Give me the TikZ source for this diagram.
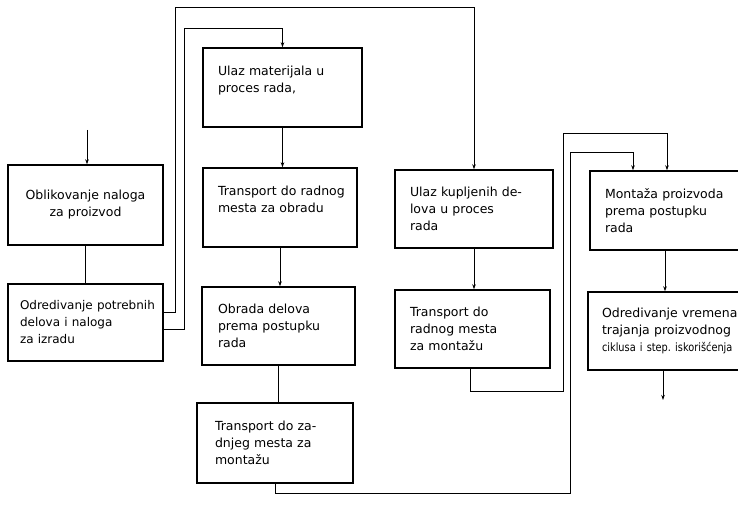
\documentclass[tikz,border=0pt]{standalone}
\usepackage{fontspec}
\newfontfamily\boxfont[WordSpace=1.5]{DejaVu Sans}
\newfontfamily\boxfontc[FakeStretch=0.85]{DejaVu Sans}
\newcommand\boxfontsel{\boxfont\fontsize{12.5}{17}\selectfont\hyphenpenalty=10000\relax\exhyphenpenalty=10000\relax}
\usetikzlibrary{arrows.meta}
\begin{document}
\begin{tikzpicture}[x=1pt,y=-1pt,
  box/.style={draw, line width=1.4pt, inner xsep=4pt, inner ysep=0pt,
    font=\boxfontsel, align=left},
  conn/.style={line width=0.8pt},
  arr/.style={conn, -{Stealth[length=5pt,width=3.5pt]}}]
\useasboundingbox (0,0) rectangle (738,505);
\clip (0,0) rectangle (738,505);
\fill[white] (0,0) rectangle (738,505);

\node[box, minimum width=155pt, minimum height=80pt, text width=135pt, align=center] (b1) at (85.5,205) {Oblikovanje~naloga\\za~proizvod};
\node[box, minimum width=155pt, minimum height=77pt, text width=131pt] (b2) at (85.5,322.5) {\fontsize{12}{17}\selectfont Odredivanje~potrebnih\\delova~i~naloga\\za~izradu};
\node[box, minimum width=159pt, minimum height=79pt, text width=129pt] (b3) at (282.5,87.5) {Ulaz~materijala~u\\proces~rada,\\\mbox{}};
\node[box, minimum width=154pt, minimum height=79pt, text width=124pt] (b4) at (280,207.5) {Transport~do~radnog\\mesta~za~obradu\\\mbox{}};
\node[box, minimum width=153pt, minimum height=78pt, text width=121pt] (b5) at (278.5,326) {Obrada~delova\\prema~postupku\\rada};
\node[box, minimum width=156pt, minimum height=80pt, text width=120pt] (b6) at (275,443) {Transport~do~za-\\dnjeg~mesta~za\\montažu};
\node[box, minimum width=158pt, minimum height=78pt, text width=128pt] (b7) at (474,209) {Ulaz~kupljenih~de-\\lova~u~proces\\rada};
\node[box, minimum width=155pt, minimum height=78pt, text width=125pt] (b8) at (472.5,329) {Transport~do\\radnog~mesta\\za~montažu};
\node[box, minimum width=160pt, minimum height=79pt, text width=130pt] (b9) at (670,210.5) {Montaža~proizvoda\\prema~postupku\\rada};
\node[box, minimum width=160pt, minimum height=78pt, text width=132pt] (b10) at (668,331) {Odredivanje~vremena\\trajanja~proizvodnog\\{\boxfontc\fontsize{11.5}{17}\selectfont ciklusa~i~step.~iskorišćenja}};

\coordinate (in1) at (87,130);
\coordinate (out1) at (663,400);

\draw[arr] (in1) -- (in1 |- b1.north);
\draw[conn] (b1.south) -- (b2.north);
\draw[arr] (b2.east |- 0,312) -| (175,7) -| (b7.north);
\draw[arr] (b2.east |- 0,329) -| (184,28) -| (b3.north);
\draw[arr] (b3.south) -- (b3.south |- b4.north);
\draw[arr] (b4.south) -- (b4.south |- b5.north);
\draw[conn] (b5.south) -- (b5.south |- b6.north);
\draw[arr] (b6.south) |- (570,493) -- (570,152) -| (b9.north -| 633,0);
\draw[arr] (b7.south) -- (b7.south |- b8.north);
\draw[arr] (b8.south -| 470,0) |- (563,391) -- (563,133) -| (b9.north -| 667,0);
\draw[arr] (b9.south -| 665,0) -- (b10.north -| 665,0);
\draw[arr] (b10.south -| 663,0) -- (out1);
\end{tikzpicture}
\end{document}
